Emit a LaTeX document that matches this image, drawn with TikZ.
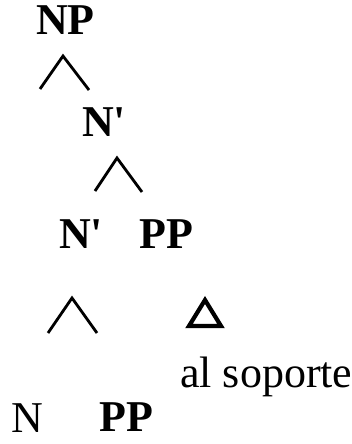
\documentclass[tikz,border=0pt]{standalone}
\usepackage{fontspec}
\setmainfont{Liberation Serif}
% no TeX ligature mapping, so ' stays a straight prime mark
\newfontfamily\treefont{Liberation Serif}
\begin{document}
\begin{tikzpicture}[x=1pt,y=-1pt,
  lbl/.style={anchor=base west,inner sep=0pt,font=\treefont\fontsize{44}{50}\selectfont\bfseries},
  word/.style={anchor=base west,inner sep=0pt,font=\treefont\fontsize{44}{50}\selectfont},
  branch/.style={line width=2.8pt,line cap=butt,line join=miter},
  roof/.style={line width=4.2pt,line join=miter}]
\useasboundingbox (0,0) rectangle (352,444);
% category labels
\node[lbl] (np) at (36,35) {NP};
\node[lbl] (nbar1) at (82,136) {N'};
\node[lbl] (nbar2) at (59,248) {N'};
\node[lbl] (pp1) at (139,248) {PP};
\node[word] (phrase) at (180,387) {al soporte};
\node[word] (n) at (11,432) {N};
\node[lbl] (pp2) at (99,431) {PP};
% branching carets
\coordinate (a1) at (63,56); \coordinate (l1) at (40,89); \coordinate (r1) at (89,90);
\coordinate (a2) at (117,158); \coordinate (l2) at (95,191); \coordinate (r2) at (142,192);
\coordinate (a3) at (72,298); \coordinate (l3) at (48,333); \coordinate (r3) at (97,333);
\draw[branch] (l1) -- (a1) -- (r1);
\draw[branch] (l2) -- (a2) -- (r2);
\draw[branch] (l3) -- (a3) -- (r3);
% triangle over the phrase
\coordinate (ta) at (205,300); \coordinate (tl) at (189,326); \coordinate (tr) at (221,326);
\draw[roof] (ta) -- (tl) -- (tr) -- cycle;
\end{tikzpicture}
\end{document}
